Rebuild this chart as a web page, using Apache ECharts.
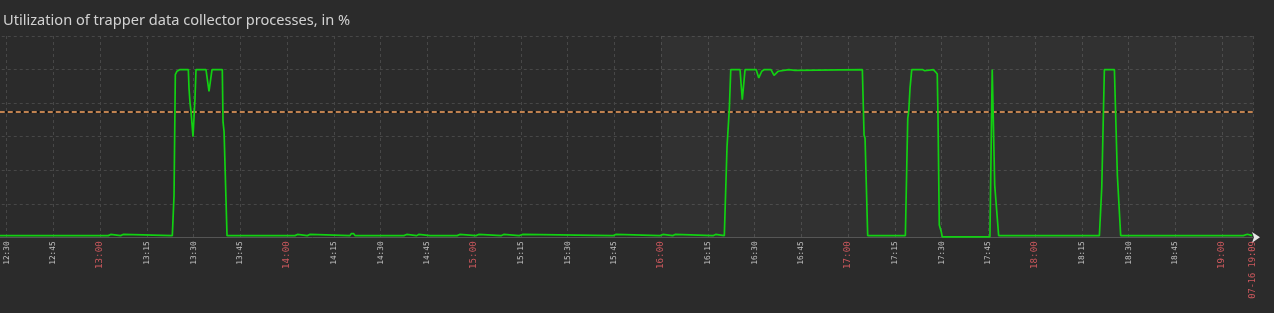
<!DOCTYPE html>
<html>
<head>
<meta charset="utf-8">
<style>
html,body{margin:0;padding:0;background:#2b2b2b;}
#c{width:1274px;height:313px;}
</style>
<script src="https://cdn.jsdelivr.net/npm/echarts@6/dist/echarts.min.js"></script>
</head>
<body>
<div id="c"></div>
<script>
// ---- data (time of day on 07-16, utilization %) ----
const TITLE = 'Utilization of trapper data collector processes, in %';
const END_LABEL = '07-16 19:09';
const X_MIN = '12:15:00';
const X_MAX = '19:09:55';
const X_STEP_MINUTES = 15;
const SHADE_FROM = '16:00:00';
const THRESHOLD = 75;
const Y_MIN = 0, Y_MAX = 120, Y_STEP = 20;

const TIMES = [
  '12:27:55',
  '12:32:44','12:32:50','12:33:22','12:33:28',
  '13:02:40','13:02:46','13:03:26','13:03:32',
  '13:06:38','13:06:44','13:07:23','13:07:29',
  '13:23:12','13:23:45','13:24:10','13:24:42','13:25:40','13:28:20','13:28:33','13:28:53','13:29:12','13:29:50',
  '13:30:10','13:30:29','13:30:48','13:34:00','13:34:58','13:35:56','13:39:14','13:39:28','13:39:48','13:40:16','13:40:45',
  '14:02:34','14:02:40','14:03:20','14:03:26',
  '14:06:31','14:06:37','14:07:17','14:07:23',
  '14:20:12','14:20:40','14:21:00','14:21:20','14:21:48',
  '14:37:30','14:37:36','14:38:23','14:38:29',
  '14:41:36','14:41:42','14:42:15','14:42:21',
  '14:45:54','14:46:00','14:46:31','14:46:37',
  '14:54:36','14:54:42','14:55:24','14:55:30',
  '15:00:36','15:00:42','15:01:29','15:01:35',
  '15:08:48','15:08:54','15:09:31','15:09:37',
  '15:14:30','15:14:36','15:15:32','15:15:38',
  '15:44:42','15:44:48','15:45:28','15:45:34',
  '15:59:42','15:59:48','16:00:36','16:00:42',
  '16:03:45','16:03:51','16:04:30','16:04:36',
  '16:16:48','16:16:54','16:17:30','16:17:36',
  '16:20:18','16:21:10','16:21:55','16:22:22','16:25:20','16:26:04','16:26:57','16:30:30','16:31:21','16:32:19',
  '16:33:08','16:35:16','16:36:15','16:37:38','16:38:10','16:40:58','16:41:04','16:43:00','16:43:19','17:04:35',
  '17:05:08','17:05:27','17:06:18',
  '17:18:23','17:19:09','17:19:28','17:19:53','17:20:26','17:23:50','17:24:04','17:24:36','17:24:51','17:27:21',
  '17:28:07','17:28:37','17:28:51','17:29:16','17:29:54','17:30:13','17:45:31','17:46:15','17:46:35','17:47:03',
  '17:47:28','17:48:19',
  '18:20:38','18:21:24','18:21:35','18:22:14','18:25:27','18:26:24','18:26:50','18:27:28',
  '19:06:48','19:06:54','19:08:06','19:08:12',
  '19:09:40'
];
const VALUES = [
  1,
  1,1.7,1.7,1,
  1,1.7,1.7,1,
  1,1.7,1.7,1,
  1,25,97,99,100,100,89,80,75,60,
  60,83,100,100,87,100,100,69,63,63,1,
  1,1.7,1.7,1,
  1,1.7,1.7,1,
  1,2.2,3.3,2.2,1,
  1,1.7,1.7,1,
  1,1.7,1.7,1,
  1,1.7,1.7,1,
  1,1.7,1.7,1,
  1,1.7,1.7,1,
  1,1.7,1.7,1,
  1,1.7,1.7,1,
  1,1.7,1.7,1,
  1,1.7,1.7,1,
  1,1.7,1.7,1,
  1,1.7,1.7,1,
  1,54,77,100,100,82,100,100,95,99,
  100,100,96.5,99,100,100,99.5,99.5,100,100,
  61,59,1,
  1,71,75,89,100,100,99.3,99.3,100,100,
  98.5,97.3,72,7.3,3.3,0.3,0.3,100,100,31,
  30,1,
  1,30,30,100,100,37,36.5,1,
  1,1.8,1.8,1,
  1
];

// ---- helpers ----
function ts(s) {
  const p = s.split(':').map(Number);
  return Date.UTC(2024, 6, 16, p[0], p[1], p[2] || 0);
}
const xMin = ts(X_MIN), xMax = ts(X_MAX);
const seriesData = TIMES.map((t, i) => [ts(t), VALUES[i]]);
function pad(n) { return (n < 10 ? '0' : '') + n; }

const MONO = '"DejaVu Sans Mono", monospace';

const chart = echarts.init(document.getElementById('c'), null, {renderer: 'canvas'});
chart.setOption({
  backgroundColor: '#2b2b2b',
  animation: false,
  title: {
    text: TITLE,
    left: -2,
    top: 8,
    textStyle: {color: '#d2d2d2', fontSize: 14.6, fontWeight: 'normal', fontFamily: '"Noto Sans", sans-serif'}
  },
  grid: {left: -40.25, right: 21, top: 36, bottom: 75.7, containLabel: false, outerBoundsMode: 'none'},
  xAxis: [{
    type: 'value',
    min: xMin,
    max: xMax,
    interval: X_STEP_MINUTES * 60000,
    axisLine: {show: true, lineStyle: {color: '#555555', width: 1}},
    axisTick: {show: false},
    splitLine: {show: true, lineStyle: {color: '#474747', type: [3, 3], width: 1}},
    axisLabel: {
      rotate: 90,
      margin: 4,
      showMinLabel: true,
      showMaxLabel: true,
      hideOverlap: false,
      formatter: function (v) {
        if (v === xMax) return '{e|' + END_LABEL + '}';
        const d = new Date(v);
        const h = d.getUTCHours(), m = d.getUTCMinutes();
        const s = pad(h) + ':' + pad(m);
        return m === 0 ? '{h|' + s + '}' : '{n|' + s + '}';
      },
      rich: {
        n: {color: '#c4c4c4', fontSize: 7.8, fontFamily: MONO},
        h: {color: '#cc585d', fontSize: 9.2, fontFamily: MONO},
        e: {color: '#cc585d', fontSize: 8.7, fontFamily: MONO}
      }
    }
  }, {
    type: 'value',
    min: xMin,
    max: xMax,
    position: 'bottom',
    axisLine: {show: true, symbol: ['none', 'arrow'], symbolSize: [8, 8], symbolOffset: [0, 7],
      lineStyle: {color: '#e6e6e6', width: 0}},
    axisTick: {show: false},
    axisLabel: {show: false},
    splitLine: {show: false}
  }],
  yAxis: {
    type: 'value',
    min: Y_MIN,
    max: Y_MAX,
    interval: Y_STEP,
    axisLine: {show: false},
    axisTick: {show: false},
    axisLabel: {show: false},
    splitLine: {show: true, lineStyle: {color: '#474747', type: [3, 3], width: 1}}
  },
  series: [{
    type: 'line',
    xAxisIndex: 0,
    data: seriesData,
    showSymbol: false,
    symbol: 'none',
    lineStyle: {color: '#12d012', width: 1.7},
    z: 3,
    markArea: {
      silent: true,
      itemStyle: {color: 'rgba(255,255,255,0.03)'},
      data: [[{xAxis: ts(SHADE_FROM)}, {xAxis: xMax}]]
    },
    markLine: {
      silent: true,
      symbol: 'none',
      label: {show: false},
      z: 2,
      data: [
        {yAxis: THRESHOLD, lineStyle: {type: 'solid', color: '#141414', width: 2}},
        {yAxis: THRESHOLD, lineStyle: {type: [5, 3], color: '#c08250', width: 2}}
      ]
    }
  }]
});
</script>
</body>
</html>
